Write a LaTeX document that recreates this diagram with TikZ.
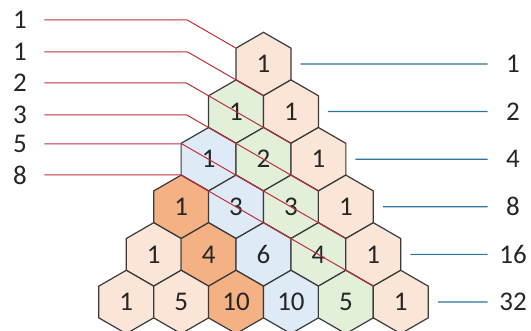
\documentclass[tikz,border=0pt]{standalone}
\usepackage{fontspec}
\setmainfont{Carlito}
\usepackage{tikz}
\usetikzlibrary{shapes.geometric,calc}
\definecolor{paspeach}{HTML}{FBE5D6}
\definecolor{pasgreen}{HTML}{E2F0D9}
\definecolor{pasblue}{HTML}{DEEBF7}
\definecolor{pasdark}{HTML}{F4B183}
\definecolor{pasedge}{HTML}{3A3A3A}
\definecolor{fibred}{HTML}{BE2F3C}
\definecolor{powblue}{HTML}{2E75A0}
\tikzset{
  pastext/.style={font=\fontsize{13.5}{15}\selectfont,text=black!85},
  pashex/.style={
    regular polygon,
    regular polygon sides=6,
    shape border rotate=30,
    minimum size=31.7pt,
    inner sep=0pt,
    draw=pasedge,
    line width=0.6pt,
    pastext
  },
  hexfill0/.style={fill=paspeach},
  hexfill1/.style={fill=pasgreen},
  hexfill2/.style={fill=pasblue},
  hexfill3/.style={fill=pasdark},
  hexfill4/.style={fill=paspeach},
  hexfill5/.style={fill=paspeach},
  fiblabel/.style={pastext,minimum width=24pt,inner sep=0pt},
  powlabel/.style={pastext,minimum width=25pt,inner sep=0pt},
  fibline/.style={draw=fibred,line width=0.5pt},
  powline/.style={draw=powblue,line width=0.6pt,shorten <=4.5pt}
}

\begin{document}
\begin{tikzpicture}[x=0.5pt,y=-0.5pt]
  \useasboundingbox (0,0) rectangle (531,331);

  \foreach \r in {0,...,5}{
    \foreach \k in {0,...,\r}{
      \pgfmathtruncatemacro{\d}{\r-\k}
      \pgfmathtruncatemacro{\v}{factorial(\r)/(factorial(\k)*factorial(\r-\k))}
      \node[pashex,hexfill\d] (hx-\r-\k)
        at ({263.5-27.45*\r+54.9*\k},{64+47.6*\r}) {\v};
    }
  }

  \foreach \i/\f/\y in {0/1/20,1/1/52,2/2/83,3/3/115,4/5/144,5/8/175}{
    \node[fiblabel] (fib\i) at (20,\y) {\f};
    \draw[fibline] let \p1=(hx-\i-\i.150), \p2=(fib\i.east) in
      (\p2) -- ({\x1-(\y2-\y1)*1.732},\y2) -- (\p1);
  }

  \foreach \r/\p in {0/1,1/2,2/4,3/8,4/16,5/32}{
    \node[powlabel] (pow\r) at (513,{64+47.6*\r}) {\p};
    \draw[powline] (hx-\r-\r.east) -- (pow\r.west);
  }
\end{tikzpicture}
\end{document}
